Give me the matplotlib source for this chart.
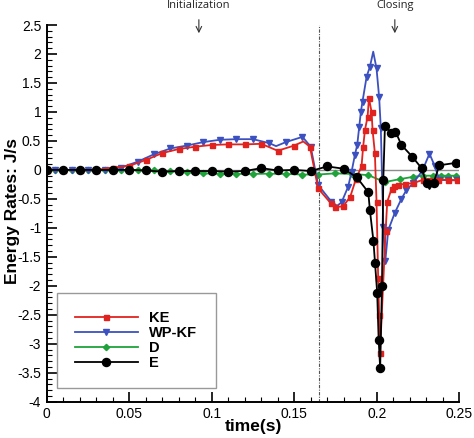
import matplotlib
matplotlib.use("Agg")
import matplotlib.pyplot as plt
from matplotlib.ticker import MultipleLocator

plt.rcParams['font.family'] = ['Liberation Sans', 'DejaVu Sans']

# ---- data ----
e_t = [0, 0.01, 0.02, 0.03, 0.04, 0.05, 0.06, 0.07, 0.08, 0.09, 0.10, 0.11, 0.12, 0.13, 0.14,
       0.15, 0.16, 0.17, 0.18, 0.188, 0.1949, 0.1959, 0.198, 0.199, 0.2003, 0.2012, 0.2021,
       0.2032, 0.204, 0.205, 0.2087, 0.2114, 0.215, 0.2215, 0.2272, 0.2302, 0.232, 0.2345,
       0.238, 0.2478]
e_v = [0, 0, 0, 0, 0, 0, -0.01, -0.03, -0.02, -0.02, -0.02, -0.03, -0.02, 0.03, -0.01,
       0, -0.02, 0.06, 0.02, -0.13, -0.385, -0.70, -1.22, -1.61, -2.12, -2.93, -3.42,
       -2.0, -0.17, 0.76, 0.64, 0.66, 0.43, 0.23, 0.03, -0.23, -0.33, -0.22,
       0.08, 0.12]
e_nomark = [0.232]

ke_t = [0, 0.01, 0.02, 0.03, 0.04, 0.05, 0.06, 0.07, 0.08, 0.09, 0.10, 0.11, 0.12, 0.13, 0.14,
        0.15, 0.1555, 0.1595, 0.1645, 0.172, 0.175, 0.1797, 0.184, 0.1874, 0.1908, 0.1918,
        0.1929, 0.1945, 0.1953, 0.1969, 0.1975, 0.1989, 0.1999, 0.2009, 0.2015, 0.202,
        0.2054, 0.2064, 0.209, 0.2104, 0.213, 0.2171, 0.222, 0.2282, 0.2318, 0.2373,
        0.2433, 0.2484]
ke_v = [0, 0, 0, 0, 0.04, 0.07, 0.17, 0.29, 0.36, 0.40, 0.43, 0.44, 0.44, 0.45, 0.33,
        0.42, 0.49, 0.40, -0.32, -0.57, -0.64, -0.63, -0.46, -0.16, 0.06, 0.40,
        0.69, 0.92, 1.24, 1.0, 0.69, 0.29, -0.55, -1.86, -2.5, -3.16,
        -1.06, -0.55, -0.33, -0.27, -0.26, -0.24, -0.23, -0.17, -0.17, -0.17,
        -0.17, -0.18]
ke_nomark = [0.1555]

wp_t = [0, 0.005, 0.015, 0.025, 0.035, 0.045, 0.055, 0.065, 0.075, 0.085, 0.095, 0.105, 0.115,
        0.125, 0.135, 0.139, 0.145, 0.155, 0.16, 0.1645, 0.1726, 0.176, 0.1787, 0.1827,
        0.1848, 0.1868, 0.1882, 0.1894, 0.1904, 0.1914, 0.1939, 0.1959, 0.1979, 0.1999,
        0.2015, 0.2025, 0.204, 0.2052, 0.207, 0.211, 0.215, 0.218, 0.222, 0.2276, 0.232,
        0.2353, 0.2379, 0.2433, 0.2484]
wp_v = [0, 0, 0, -0.01, 0, 0.04, 0.14, 0.27, 0.37, 0.42, 0.48, 0.52, 0.53,
        0.53, 0.46, 0.41, 0.48, 0.57, 0.40, -0.26, -0.55, -0.62, -0.56, -0.29,
        -0.03, 0.26, 0.43, 0.74, 1.0, 1.18, 1.61, 1.78, 2.04, 1.75,
        1.25, 0.72, -0.98, -1.58, -1.04, -0.74, -0.5, -0.35, -0.23, -0.02, 0.28,
        0.06, -0.17, -0.18, -0.18]
wp_nomark = [0.139, 0.176, 0.1979]

d_t = [0, 0.005, 0.015, 0.025, 0.035, 0.045, 0.055, 0.065, 0.075, 0.085, 0.095, 0.105, 0.115,
       0.125, 0.135, 0.145, 0.155, 0.1645, 0.1747, 0.1848, 0.1948, 0.205, 0.214, 0.222,
       0.2282, 0.2343, 0.2387, 0.2433, 0.248]
d_v = [0, 0, 0, 0, 0, 0, 0, -0.01, -0.02, -0.04, -0.06, -0.07, -0.07,
       -0.07, -0.065, -0.07, -0.08, -0.08, -0.06, -0.07, -0.09, -0.21, -0.16, -0.12,
       -0.10, -0.10, -0.10, -0.10, -0.10]
d_nomark = [0]

series_names = ['KE', 'WP-KF', 'D', 'E']
marker_line_t = 0.165
annotations = [('Initialization', 0.0922), ('Closing', 0.211)]
x_ticks = [0, 0.05, 0.1, 0.15, 0.2, 0.25]
x_ticklabels = ['0', '0.05', '0.1', '0.15', '0.2', '0.25']
y_ticks = [-4, -3.5, -3, -2.5, -2, -1.5, -1, -0.5, 0, 0.5, 1, 1.5, 2, 2.5]


def marks(t, nomark):
    return [i for i, v in enumerate(t) if v not in nomark]


fig = plt.figure(figsize=(4.74, 4.38), dpi=100)
ax = fig.add_axes([0.0987, 0.0829, 0.870, 0.860])

ax.axhline(0, color='#8c8c8c', lw=1.0, zorder=1)
ax.axvline(marker_line_t, color='#555555', lw=0.8, ls=(0, (3, 1.2, 1, 1.2)), zorder=1)

ax.plot(ke_t, ke_v, color='#e0231f', lw=1.3, marker='s', ms=3.6,
        markevery=marks(ke_t, ke_nomark), label=series_names[0], zorder=4)
ax.plot(wp_t, wp_v, color='#3c50bf', lw=1.3, marker='v', ms=4.5,
        markevery=marks(wp_t, wp_nomark), label=series_names[1], zorder=3)
ax.plot(d_t, d_v, color='#1fa23a', lw=1.3, marker='D', ms=3.2,
        markevery=marks(d_t, d_nomark), label=series_names[2], zorder=2)
ax.plot(e_t, e_v, color='black', lw=1.3, marker='o', ms=5.8,
        markevery=marks(e_t, e_nomark), label=series_names[3], zorder=5)

ax.set_xlim(0, 0.25)
ax.set_ylim(-4, 2.5)
ax.set_xticks(x_ticks)
ax.set_xticklabels(x_ticklabels)
ax.set_yticks(y_ticks)
ax.set_yticklabels([('%g' % v) for v in y_ticks])
ax.xaxis.set_minor_locator(MultipleLocator(0.01))
ax.yaxis.set_minor_locator(MultipleLocator(0.1))
ax.tick_params(which='major', direction='in', length=7, width=1.2, labelsize=10, pad=4)
ax.tick_params(which='minor', direction='in', length=3.5, width=0.8)
for s in ['top', 'right']:
    ax.spines[s].set_visible(False)
for s in ['left', 'bottom']:
    ax.spines[s].set_linewidth(1.4)

ax.set_xlabel('time(s)', fontsize=12.5, fontweight='bold')
ax.xaxis.set_label_coords(0.5, -0.047)
ax.set_ylabel('Energy Rates: J/s', fontsize=12.5, fontweight='bold')
ax.yaxis.set_label_coords(-0.066, 0.505)

for txt, xt in annotations:
    ax.annotate('', xy=(xt, 2.31), xytext=(xt, 2.64), xycoords='data',
                arrowprops=dict(arrowstyle='->', color='#333333', lw=0.8),
                annotation_clip=False)
    ax.text(xt, 2.83, txt, ha='center', va='center', fontsize=8,
            family=['Open Sans', 'DejaVu Sans'], color='#222222', clip_on=False)

leg = ax.legend(loc='upper left', bbox_to_anchor=(0.024, 0.288),
                prop={'weight': 'bold', 'size': 10.5}, fancybox=False, framealpha=1,
                edgecolor='#999999', handlelength=4.3, borderpad=1.25, labelspacing=0.05,
                handletextpad=0.8, borderaxespad=0)
leg.get_frame().set_linewidth(1.0)

fig.savefig('out.png', dpi=100)
